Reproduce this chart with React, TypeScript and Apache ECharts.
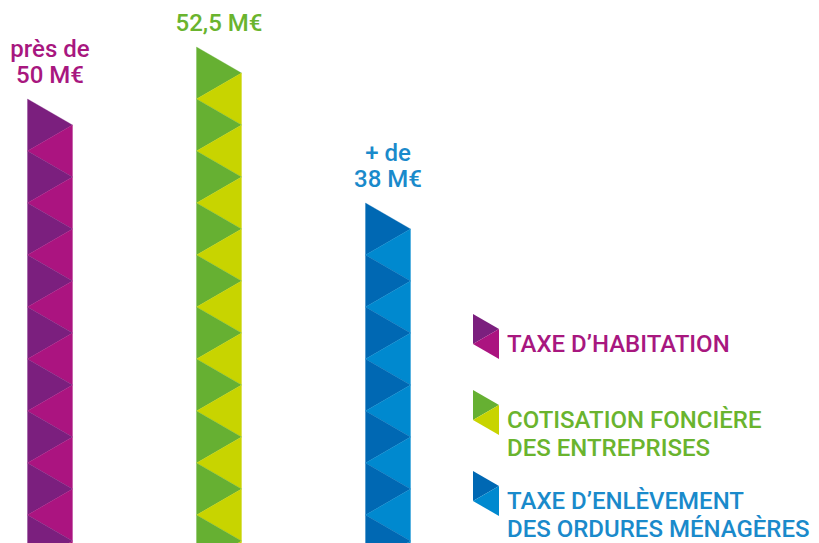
import React, { useEffect, useRef } from "react";
import * as echarts from "echarts";

// ---- data ----
const categories = [
  "Taxe d’habitation",
  "Cotisation foncière des entreprises",
  "Taxe d’enlèvement des ordures ménagères",
];
const amounts = [50, 52.5, 38]; // M€
const amountLabels = ["près de\n50 M€", "52,5 M€", "+ de\n38 M€"];
// height of each pictogram bar, counted in stacked triangles
const triangleCounts = [9, 10, 7];
const legendLabels = [
  "TAXE D’HABITATION",
  "COTISATION FONCIÈRE\nDES ENTREPRISES",
  "TAXE D’ENLÈVEMENT\nDES ORDURES MÉNAGÈRES",
];

// ---- styles ----
const darkColors = ["#7B1F7E", "#66B032", "#0068B3"];
const lightColors = ["#AB1480", "#C8D400", "#0089CF"];
const textColors = ["#A8177F", "#6AB42E", "#1A8ACB"];
const FONT = "Roboto, 'Noto Sans', sans-serif";
const BAR_W = 45;

export default function App() {
  const ref = useRef<HTMLDivElement>(null);

  useEffect(() => {
    document.body.style.margin = "0";
    const chart = echarts.init(ref.current!, undefined, { renderer: "svg" });

    const legendTops = [314, 390, 471];
    const legendGraphics: any[] = [];
    legendLabels.forEach((label, i) => {
      const y0 = legendTops[i];
      const xl = 473;
      const xr = 499;
      const h = 15;
      legendGraphics.push({
        type: "polygon",
        shape: { points: [[xl, y0], [xr, y0 + h], [xl, y0 + 2 * h]] },
        style: { fill: darkColors[i] },
      });
      legendGraphics.push({
        type: "polygon",
        shape: { points: [[xr, y0 + h], [xl, y0 + 2 * h], [xr, y0 + 3 * h]] },
        style: { fill: lightColors[i] },
      });
      legendGraphics.push({
        type: "text",
        x: 507,
        y: y0 + 16,
        style: {
          text: label,
          fill: textColors[i],
          fontFamily: FONT,
          fontSize: 24,
          fontWeight: 500,
          lineHeight: 28,
          align: "left",
          verticalAlign: "top",
        },
      });
    });

    const option: any = {
      animation: false,
      backgroundColor: "#ffffff",
      grid: { left: 50, width: 338, top: 21, bottom: 2 },
      xAxis: {
        type: "category",
        data: categories,
        boundaryGap: false,
        show: false,
      },
      yAxis: { type: "value", min: 0.5, max: 10.5, show: false },
      graphic: legendGraphics,
      series: [
        {
          type: "custom",
          clip: false,
          data: triangleCounts.map((c, i) => [i, c, amounts[i]]),
          renderItem: (params: any, api: any) => {
            const i = api.value(0);
            const v = api.value(1);
            const top = api.coord([i, v]);
            const base = api.coord([i, 0]);
            const unit = (base[1] - top[1]) / v;
            const h = unit / 2;
            const xl = top[0] - BAR_W / 2;
            const xr = top[0] + BAR_W / 2;
            const pts: number[][] = [];
            for (let k = 0; top[1] + k * h <= base[1] + 2 * h; k++) {
              pts.push([k % 2 === 0 ? xl : xr, top[1] + k * h]);
            }
            const children: any[] = [];
            for (let k = 0; k + 2 < pts.length; k++) {
              children.push({
                type: "polygon",
                shape: { points: [pts[k], pts[k + 1], pts[k + 2]] },
                style: {
                  fill: k % 2 === 0 ? darkColors[i] : lightColors[i],
                  stroke: k % 2 === 0 ? darkColors[i] : lightColors[i],
                  lineWidth: 0.3,
                },
              });
            }
            children.push({
              type: "text",
              x: top[0],
              y: top[1] - 11,
              style: {
                text: amountLabels[i],
                fill: textColors[i],
                fontFamily: FONT,
                fontSize: 24,
                fontWeight: 500,
                lineHeight: 26,
                align: "center",
                verticalAlign: "bottom",
              },
            });
            return { type: "group", children };
          },
        },
      ],
    };
    chart.setOption(option);
    return () => chart.dispose();
  }, []);

  return (
    <div
      ref={ref}
      style={{ position: "absolute", left: 0, top: 0, width: 819, height: 543 }}
    />
  );
}
